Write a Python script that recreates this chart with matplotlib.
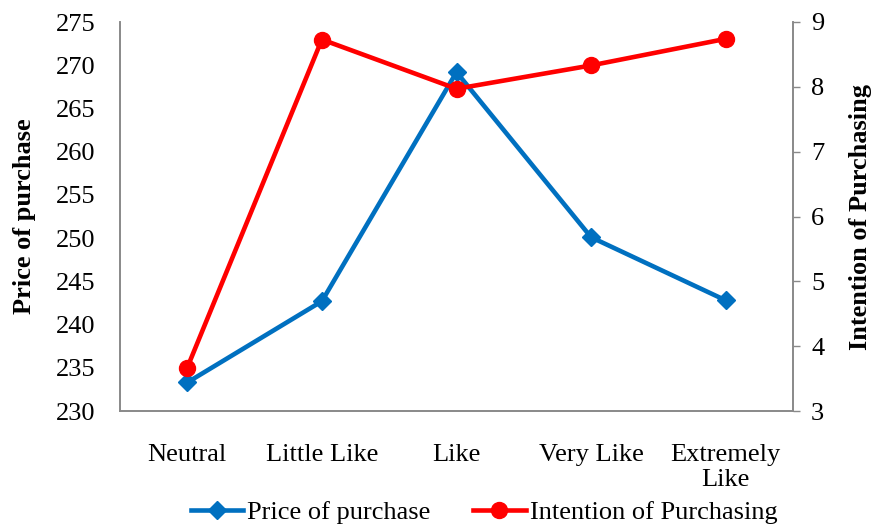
import matplotlib
matplotlib.use("Agg")
import matplotlib.pyplot as plt
from matplotlib.lines import Line2D

categories = ["Neutral", "Little Like", "Like", "Very Like", "Extremely\nLike"]
price = [233.3, 242.7, 269.2, 250.1, 242.8]
intention = [3.67, 8.73, 7.97, 8.33, 8.74]
left_ticks = [230, 235, 240, 245, 250, 255, 260, 265, 270, 275]
right_ticks = [3, 4, 5, 6, 7, 8, 9]

plt.rcParams['font.family'] = ['Liberation Serif', 'DejaVu Serif']
FS = 19
BLUE = '#0070C0'
RED = '#FF0000'
GRAY = '#898989'

fig = plt.figure(figsize=(8.72, 5.24), dpi=100)
ax = fig.add_axes([120/872, 1-411/524, (793-120)/872, (411-22)/524])
x = list(range(len(categories)))

ax.plot(x, price, color=BLUE, lw=3.3, marker='D', ms=9, label='Price of purchase')
ax.set_xlim(-0.5, len(categories)-0.5)
ax.set_ylim(230, 275)
ax.set_yticks(left_ticks)
ax.set_xticks(x)
ax.set_xticklabels(categories, fontsize=FS, linespacing=1.15)
ax.tick_params(axis='y', length=0, pad=18, labelsize=FS)
ax.tick_params(axis='x', length=0, pad=24)
ax.set_ylabel('Price of purchase', fontsize=FS, fontweight='bold', labelpad=14)

ax2 = ax.twinx()
ax2.plot(x, intention, color=RED, lw=3.3, marker='o', ms=11.5, label='Intention of Purchasing')
ax2.set_ylim(3, 9)
ax2.set_yticks(right_ticks)
ax2.tick_params(axis='y', length=5, width=1, color=GRAY, pad=8, labelsize=FS, direction='out')
ax2.set_ylabel('Intention of Purchasing', fontsize=FS, fontweight='bold', labelpad=18)

for a in (ax, ax2):
    a.spines['top'].set_visible(False)
    for s in ('left', 'right', 'bottom'):
        a.spines[s].set_color(GRAY)
        a.spines[s].set_linewidth(1.2)

handles = [Line2D([], [], color=BLUE, lw=3.3, marker='D', ms=9),
           Line2D([], [], color=RED, lw=3.3, marker='o', ms=11.5)]
fig.legend(handles, ['Price of purchase', 'Intention of Purchasing'],
           loc='lower center', bbox_to_anchor=(0.555, -0.045), ncol=2, frameon=False,
           fontsize=FS, handlelength=2.0, handletextpad=0.15, columnspacing=1.6)

fig.savefig('out.png', dpi=100)
